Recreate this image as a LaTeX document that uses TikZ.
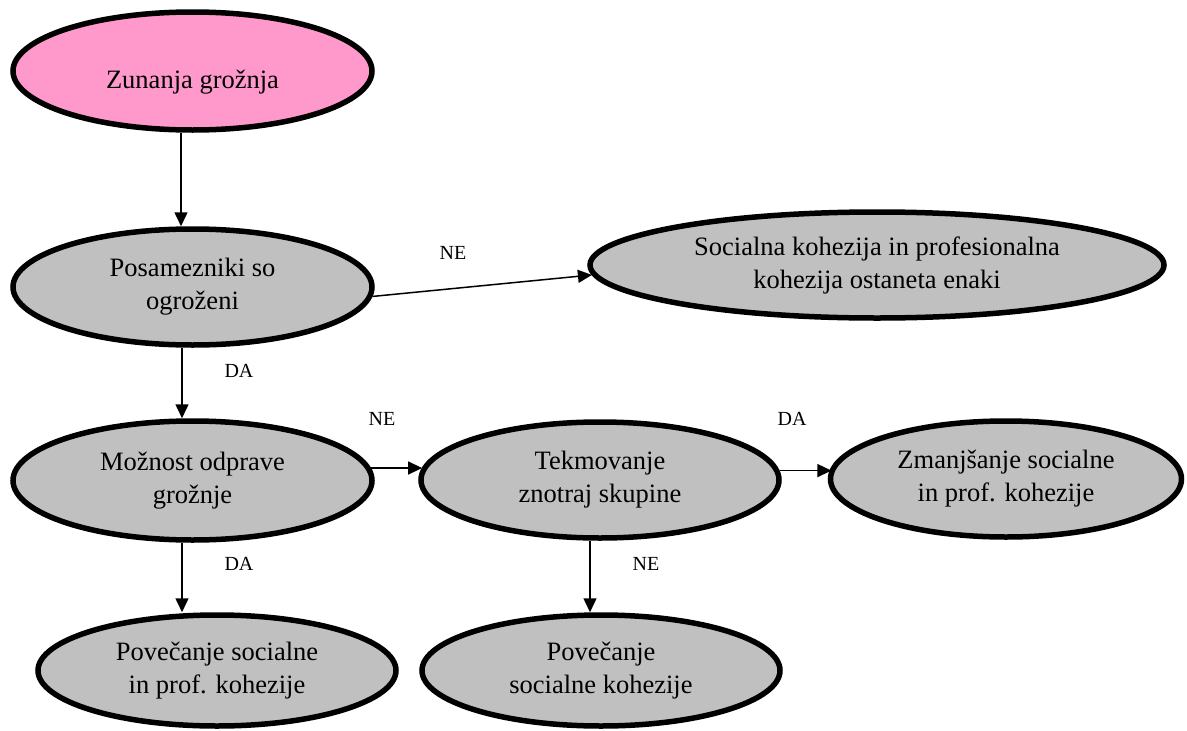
\documentclass[tikz,border=0pt]{standalone}
\usepackage{fontspec}
\setmainfont{Liberation Serif}
\usetikzlibrary{shapes.geometric,arrows.meta}
\definecolor{rosefill}{HTML}{FF99CC}
\definecolor{shapegray}{HTML}{C0C0C0}
\begin{document}
\begin{tikzpicture}[x=1pt,y=-1pt,
  bubble/.style={ellipse, draw=black, line width=5.5pt, fill=shapegray,
    inner sep=0pt, align=center, font=\fontsize{26.5}{33}\selectfont},
  flow/.style={draw=black, line width=1.5pt,
    -{Triangle[length=14pt,width=13pt]}},
  tag/.style={font=\fontsize{20}{24}\selectfont, inner sep=0pt}]
\useasboundingbox (0,0) rectangle (1187,731);

% decision and outcome ellipses
\node[bubble, fill=rosefill, minimum width=359pt, minimum height=118pt,
      text height=40pt, text depth=6pt] (threat) at (192.5,71) {Zunanja grožnja};
\node[bubble, minimum width=359pt, minimum height=116pt] (indiv) at (192.5,287)
      {Posamezniki so\\ogroženi};
\node[bubble, minimum width=574pt, minimum height=106pt] (same) at (877,265)
      {Socialna kohezija in profesionalna\\kohezija ostaneta enaki};
\node[bubble, minimum width=359pt, minimum height=119pt] (elim) at (192.5,480.5)
      {Možnost odprave\\grožnje};
\node[bubble, minimum width=358pt, minimum height=116pt] (comp) at (600,480)
      {Tekmovanje\\znotraj skupine};
\node[bubble, minimum width=351pt, minimum height=116pt] (dec) at (1006,479)
      {Zmanjšanje socialne\\in prof. kohezije};
\node[bubble, minimum width=358pt, minimum height=111pt] (incboth) at (217,670.5)
      {Povečanje socialne\\in prof. kohezije};
\node[bubble, minimum width=358pt, minimum height=111pt] (incsoc) at (601,670.5)
      {Povečanje\\socialne kohezije};

% connectors
\draw[flow] ([xshift=-11.5pt]threat.south) -- ([xshift=-11.5pt]threat.south |- indiv.north);
\draw[flow] (indiv.-3.6) -- (same.182.7);
\draw[flow] ([xshift=-10.5pt]indiv.south) -- ([xshift=-10.5pt]indiv.south |- elim.north);
\draw[flow] (elim.4.06) -- (elim.4.06 -| comp.176.09);
\draw[flow] (comp.3.91) -- (comp.3.91 -| dec.176.36);
\draw[flow] ([xshift=-10.5pt]elim.south) -- ([xshift=-10.5pt]elim.south |- incboth.north);
\draw[flow] ([xshift=-10pt]comp.south) -- ([xshift=-10pt]comp.south |- incsoc.north);

% branch labels
\node[tag] (ne1) at (453,253) {NE};
\node[tag] (da1) at (239,371) {DA};
\node[tag] (ne2) at (382,419) {NE};
\node[tag] (da2) at (792,419) {DA};
\node[tag] (da3) at (239,564) {DA};
\node[tag] (ne3) at (646,564) {NE};
\end{tikzpicture}
\end{document}
